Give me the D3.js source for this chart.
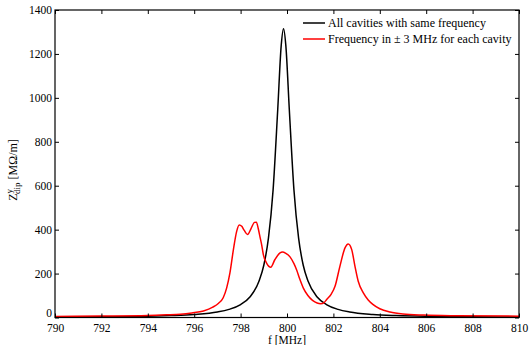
<!DOCTYPE html>
<html>
<head>
<meta charset="utf-8">
<title>impedance</title>
<script src="https://d3js.org/d3.v7.min.js"></script>
<style>
  body { margin: 0; background: #fff; }
  text { font-family: "Liberation Serif", "Times New Roman", serif; }
</style>
</head>
<body>
<script>
// values
var blackF = [790, 792, 794, 795, 796, 797, 797.5, 798, 798.4, 798.8, 799.0, 799.2, 799.4, 799.6, 799.75, 799.85,
              799.95, 800.1, 800.3, 800.5, 800.7, 800.9, 801.3, 801.7, 802.2, 802.7, 803.7, 804.7, 806, 808, 810];
var blackZ = [2, 3.4, 6, 9, 14, 25, 37, 59, 93, 167, 238, 361, 580, 946, 1238, 1315,
              1238, 946, 580, 361, 238, 167, 93, 59, 37, 25, 14, 9, 5.5, 3.2, 2];

var redF = [790, 792, 794, 794.8, 795.4, 795.9, 796.4, 796.8, 797.05, 797.25, 797.4, 797.54, 797.69, 797.83, 797.94,
            798.05, 798.15, 798.3, 798.45, 798.6, 798.68, 798.76, 798.84, 798.91, 798.98, 799.12, 799.3, 799.48,
            799.7, 799.8, 799.95, 800.13, 800.3, 800.42, 800.55, 800.7, 800.9, 801.1, 801.3, 801.45, 801.6, 801.71,
            801.9, 802.07, 802.28, 802.5, 802.64, 802.79, 802.93, 803.07, 803.29, 803.5, 803.7, 804, 804.44, 805,
            805.9, 807.3, 810];
var redZ = [5, 6.5, 9, 12, 15, 21, 30, 47, 65, 90, 135, 203, 309, 392, 421,
            415, 398, 378, 405, 433, 434, 405, 365, 330, 286, 248, 229, 264,
            294, 298, 292, 276, 245, 215, 175, 135, 100, 78, 66, 63, 68, 82,
            105, 142, 233, 317, 335, 309, 233, 165, 112, 80, 60, 40, 25, 16,
            11, 8, 6];

var xTicks = [790, 792, 794, 796, 798, 800, 802, 804, 806, 808, 810];
var yTicks = [0, 200, 400, 600, 800, 1000, 1200, 1400];
var legendLabels = ["All cavities with same frequency", "Frequency in \u00b1 3 MHz for each cavity"];
var colors = ["#000000", "#ff0000"];

var width = 529, height = 345;
var pLeft = 55, pRight = 519, pTop = 10, pBottom = 317.5;

var svg = d3.select("body").append("svg").attr("width", width).attr("height", height);

var x = d3.scaleLinear().domain([790, 810]).range([pLeft, pRight]);
var y = d3.scaleLinear().domain([0, 1400]).range([pBottom, pTop]);

var line = d3.line()
    .x(function(d){ return x(d[0]) })
    .y(function(d){ return y(d[1]) })
    .curve(d3.curveMonotoneX);

svg.append("clipPath").attr("id", "clip").append("rect")
    .attr("x", pLeft).attr("y", pTop).attr("width", pRight - pLeft).attr("height", pBottom - pTop);

var series = [d3.zip(blackF, blackZ), d3.zip(redF, redZ)];

svg.append("g").attr("clip-path", "url(#clip)")
  .selectAll("path")
  .data(series)
  .enter()
  .append("path")
  .attr("d", line)
  .attr("fill", "none")
  .attr("stroke", function(d, i){ return colors[i] })
  .attr("stroke-width", 1.5);

// axes with inward ticks on all four sides
var xAxis = svg.append("g").attr("transform", "translate(0," + pBottom + ")")
  .call(d3.axisBottom(x).tickValues(xTicks).tickSizeInner(-4).tickSizeOuter(0).tickPadding(6));
svg.append("g").attr("transform", "translate(0," + pTop + ")")
  .call(d3.axisTop(x).tickValues(xTicks).tickSizeInner(-4).tickSizeOuter(0).tickFormat(""));
var yAxis = svg.append("g").attr("transform", "translate(" + pLeft + ",0)")
  .call(d3.axisLeft(y).tickValues(yTicks).tickFormat(d3.format("d")).tickSizeInner(-4).tickSizeOuter(0).tickPadding(3));
svg.append("g").attr("transform", "translate(" + pRight + ",0)")
  .call(d3.axisRight(y).tickValues(yTicks).tickSizeInner(-4).tickSizeOuter(0).tickFormat(""));

svg.selectAll(".tick text").attr("font-size", 11.5).attr("fill", "#000")
  .attr("font-family", "'Liberation Serif', 'Times New Roman', serif");
svg.selectAll(".tick line").attr("stroke", "#000");
svg.selectAll(".domain").remove();

// the "0" label sits a little above the corner so it clears "790"
yAxis.selectAll(".tick text").filter(function(d){ return d === 0 }).attr("dy", "-0.05em");

svg.append("rect")
  .attr("x", pLeft).attr("y", pTop).attr("width", pRight - pLeft).attr("height", pBottom - pTop)
  .attr("fill", "none").attr("stroke", "#000").attr("stroke-width", 1.2);

// axis labels
svg.append("text")
  .attr("x", (pLeft + pRight) / 2).attr("y", 344)
  .attr("text-anchor", "middle").attr("font-size", 11.5)
  .text("f [MHz]");

var yl = svg.append("text")
  .attr("transform", "translate(17,170) rotate(-90)")
  .attr("text-anchor", "middle").attr("font-size", 12);
yl.append("tspan").text("Z");
yl.append("tspan").attr("font-size", 9).attr("dy", -5).text("y");
yl.append("tspan").attr("font-size", 9).attr("dx", -5).attr("dy", 8).text("dip");
yl.append("tspan").attr("dy", -3).text(" [M\u03a9/m]");

// legend
var leg = svg.append("g").selectAll("g")
  .data(legendLabels)
  .enter()
  .append("g")
  .attr("transform", function(d, i){ return "translate(303," + (23 + i * 16) + ")" });

leg.append("line")
  .attr("x1", 0).attr("x2", 22).attr("y1", 0).attr("y2", 0)
  .attr("stroke", function(d, i){ return colors[i] })
  .attr("stroke-width", 1.5);

leg.append("text")
  .attr("x", 25).attr("y", 4)
  .attr("font-size", 12)
  .text(function(d){ return d });
</script>
</body>
</html>
